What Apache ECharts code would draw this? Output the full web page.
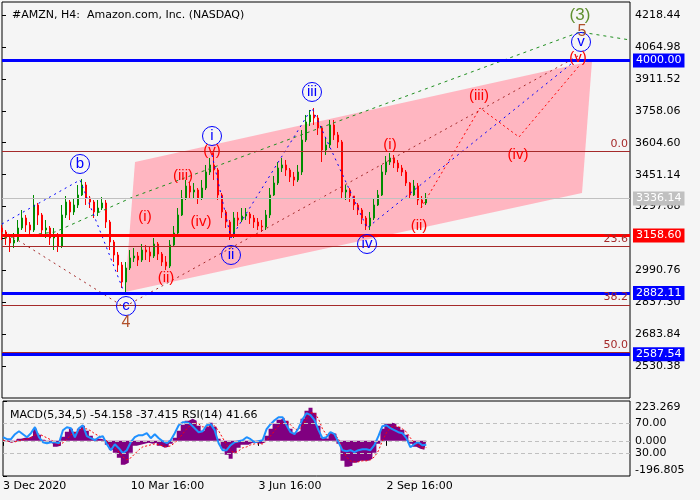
<!DOCTYPE html>
<html>
<head>
<meta charset="utf-8">
<script src="https://cdn.jsdelivr.net/npm/echarts@6/dist/echarts.min.js"></script>
<style>
  html, body { margin: 0; padding: 0; background: #f5f5f5; }
  #chart { width: 700px; height: 500px; }
</style>
</head>
<body>
<div id="chart"></div>
<script>
"use strict";

// H4 candles, one entry per bar (bar index on the x axis)
const opens = [3194.5, 3175.3, 3146.4, 3122.4, 3136.8, 3194.5, 3242.6, 3209.0, 3184.9, 3305.2,
  3257.1, 3184.9, 3194.5, 3146.4, 3160.9, 3107.9, 3257.1, 3319.6, 3271.5, 3305.2,
  3353.3, 3401.4, 3338.8, 3319.6, 3271.5, 3290.7, 3314.8, 3223.4, 3127.2, 3064.7,
  3016.6, 2934.8, 3002.1, 3050.2, 3059.8, 3040.6, 3088.7, 3079.1, 3059.8, 3117.6,
  3069.5, 3031.0, 3011.7, 3112.8, 3170.5, 3257.1, 3338.8, 3396.5, 3367.7, 3377.3,
  3338.8, 3386.9, 3463.9, 3497.6, 3473.5, 3353.3, 3271.5, 3223.4, 3156.0, 3242.6,
  3233.0, 3252.2, 3261.9, 3242.6, 3223.4, 3204.1, 3199.3, 3257.1, 3353.3, 3411.0,
  3483.1, 3497.6, 3473.5, 3439.8, 3425.4, 3463.9, 3617.8, 3704.4, 3738.1, 3723.6,
  3675.5, 3569.7, 3593.8, 3690.0, 3641.9, 3608.2, 3367.7, 3377.3, 3348.4, 3305.2,
  3281.1, 3242.6, 3204.1, 3242.6, 3305.2, 3353.3, 3463.9, 3512.0, 3531.2, 3507.2,
  3483.1, 3463.9, 3411.0, 3353.3, 3396.5, 3329.2, 3314.8];
const closes = [3175.3, 3146.4, 3122.4, 3136.8, 3194.5, 3242.6, 3209.0, 3184.9, 3305.2, 3257.1,
  3184.9, 3194.5, 3146.4, 3160.9, 3107.9, 3257.1, 3319.6, 3271.5, 3305.2, 3353.3,
  3401.4, 3338.8, 3319.6, 3271.5, 3290.7, 3314.8, 3223.4, 3127.2, 3064.7, 3016.6,
  2934.8, 3002.1, 3050.2, 3059.8, 3040.6, 3088.7, 3079.1, 3059.8, 3117.6, 3069.5,
  3031.0, 3011.7, 3112.8, 3170.5, 3257.1, 3338.8, 3396.5, 3367.7, 3377.3, 3338.8,
  3386.9, 3463.9, 3497.6, 3473.5, 3353.3, 3271.5, 3223.4, 3156.0, 3242.6, 3233.0,
  3252.2, 3261.9, 3242.6, 3223.4, 3204.1, 3199.3, 3257.1, 3353.3, 3411.0, 3483.1,
  3497.6, 3473.5, 3439.8, 3425.4, 3463.9, 3617.8, 3704.4, 3738.1, 3723.6, 3675.5,
  3569.7, 3593.8, 3690.0, 3641.9, 3608.2, 3367.7, 3377.3, 3348.4, 3305.2, 3281.1,
  3242.6, 3204.1, 3242.6, 3305.2, 3353.3, 3463.9, 3512.0, 3531.2, 3507.2, 3483.1,
  3463.9, 3411.0, 3353.3, 3396.5, 3329.2, 3314.8, 3336.1];
const lows = [3136.8, 3112.8, 3079.1, 3098.3, 3127.2, 3184.9, 3175.3, 3156.0, 3175.3, 3209.0,
  3156.0, 3146.4, 3112.8, 3088.7, 3079.1, 3098.3, 3242.6, 3233.0, 3257.1, 3290.7,
  3348.4, 3305.2, 3290.7, 3242.6, 3252.2, 3281.1, 3194.5, 3088.7, 3031.0, 2982.9,
  2906.0, 2886.7, 2992.5, 3031.0, 3011.7, 3031.0, 3040.6, 3031.0, 3050.2, 3040.6,
  3011.7, 2992.5, 3002.1, 3107.9, 3156.0, 3252.2, 3329.2, 3338.8, 3338.8, 3310.0,
  3329.2, 3377.3, 3449.5, 3425.4, 3329.2, 3242.6, 3194.5, 3136.8, 3146.4, 3204.1,
  3223.4, 3233.0, 3213.8, 3194.5, 3184.9, 3175.3, 3184.9, 3242.6, 3348.4, 3401.4,
  3463.9, 3444.6, 3415.8, 3396.5, 3415.8, 3449.5, 3608.2, 3685.1, 3690.0, 3641.9,
  3512.0, 3545.7, 3579.3, 3617.8, 3579.3, 3338.8, 3329.2, 3319.6, 3281.1, 3257.1,
  3213.8, 3184.9, 3184.9, 3233.0, 3300.3, 3348.4, 3449.5, 3497.6, 3483.1, 3463.9,
  3444.6, 3396.5, 3338.8, 3348.4, 3305.2, 3290.7, 3305.2];
const highs = [3209.0, 3184.9, 3160.9, 3170.5, 3233.0, 3281.1, 3257.1, 3223.4, 3353.3, 3314.8,
  3266.7, 3233.0, 3204.1, 3194.5, 3170.5, 3305.2, 3348.4, 3329.2, 3338.8, 3401.4,
  3430.2, 3415.8, 3348.4, 3329.2, 3329.2, 3343.6, 3329.2, 3233.0, 3136.8, 3079.1,
  3031.0, 3031.0, 3088.7, 3098.3, 3079.1, 3117.6, 3112.8, 3107.9, 3146.4, 3127.2,
  3079.1, 3059.8, 3136.8, 3204.1, 3290.7, 3377.3, 3425.4, 3415.8, 3411.0, 3386.9,
  3425.4, 3497.6, 3531.2, 3555.3, 3483.1, 3362.9, 3281.1, 3233.0, 3271.5, 3271.5,
  3290.7, 3290.7, 3271.5, 3257.1, 3242.6, 3233.0, 3281.1, 3386.9, 3444.6, 3512.0,
  3531.2, 3521.6, 3483.1, 3463.9, 3497.6, 3665.9, 3738.1, 3762.1, 3771.7, 3738.1,
  3685.1, 3627.4, 3714.0, 3714.0, 3656.3, 3617.8, 3401.4, 3386.9, 3348.4, 3314.8,
  3290.7, 3252.2, 3271.5, 3338.8, 3377.3, 3497.6, 3540.8, 3555.3, 3545.7, 3521.6,
  3497.6, 3473.5, 3415.8, 3425.4, 3411.0, 3348.4, 3362.9];

// MACD(5,34,5) histogram, its signal, RSI(14)
const macdHist = [5.6, 0, -11.2, -5.6, 11.2, 16.8, 16.8, 28, 67.2, 33.6,
  5.6, -5.6, -16.8, -33.6, -28, 22.4, 50.4, 67.2, 50.4, 67.2,
  84, 56, 28, 11.2, 11.2, 5.6, -22.4, -50.4, -67.2, -95.2,
  -134.4, -123.2, -67.2, -28, -22.4, -16.8, -11.2, -16.8, -11.2, -28,
  -39.2, -33.6, -16.8, 16.8, 56, 89.6, 112, 123.2, 112, 84,
  56, 78.4, 100.8, 78.4, 11.2, -44.8, -78.4, -100.8, -67.2, -39.2,
  -22.4, -22.4, -11.2, -11.2, -16.8, -11.2, 28, 67.2, 95.2, 117.6,
  128.8, 112, 67.2, 44.8, 56, 123.2, 168, 184.8, 156.8, 84,
  16.8, 11.2, 44.8, 39.2, -16.8, -112, -145.6, -140, -123.2, -112,
  -112, -112, -100.8, -67.2, -16.8, 67.2, 95.2, 100.8, 95.2, 78.4,
  61.6, 33.6, -16.8, -33.6, -44.8, -50.4, -54.158];
const macdSignal = [0, 0, -5.6, -5.6, 0, 5.6, 11.2, 16.8, 33.6, 39.2,
  28, 16.8, 5.6, -11.2, -22.4, -11.2, 11.2, 33.6, 44.8, 56,
  67.2, 67.2, 56, 39.2, 28, 16.8, 0, -22.4, -39.2, -61.6,
  -89.6, -106.4, -95.2, -72.8, -50.4, -33.6, -28, -22.4, -16.8, -22.4,
  -28, -33.6, -28, -11.2, 11.2, 39.2, 67.2, 89.6, 100.8, 95.2,
  78.4, 78.4, 84, 84, 56, 16.8, -22.4, -56, -67.2, -56,
  -39.2, -33.6, -22.4, -16.8, -16.8, -16.8, 0, 28, 56, 84,
  106.4, 112, 89.6, 67.2, 61.6, 84, 123.2, 156.8, 156.8, 123.2,
  67.2, 33.6, 39.2, 39.2, 11.2, -44.8, -89.6, -112, -117.6, -117.6,
  -112, -112, -106.4, -89.6, -56, 0, 44.8, 72.8, 84, 78.4,
  67.2, 50.4, 16.8, -11.2, -28, -39.2, -37.415];
const rsi = [51.7, 49.1, 49.1, 55.7, 59.7, 55.7, 51.7, 57.1, 65.1, 51.7,
  45.1, 43.7, 45.1, 45.1, 43.7, 61.1, 65.1, 63.7, 51.7, 63.7,
  67.7, 53.1, 50.4, 47.7, 51.7, 53.1, 42.4, 34.4, 42.4, 37.1,
  30.4, 34.4, 45.1, 51.7, 54.4, 54.4, 57.1, 50.4, 55.7, 50.4,
  46.4, 43.7, 47.7, 57.1, 67.7, 71.7, 71.7, 69.1, 63.7, 58.4,
  59.7, 67.7, 69.1, 61.1, 43.7, 34.4, 34.4, 41.1, 45.1, 46.4,
  47.7, 51.7, 49.1, 45.1, 46.4, 47.7, 62.4, 69.1, 74.4, 78.4,
  78.4, 67.7, 58.4, 55.7, 63.7, 75.7, 83.7, 81.1, 74.4, 61.1,
  50.4, 51.7, 58.4, 55.7, 45.1, 34.4, 33.1, 34.4, 31.7, 34.4,
  35.7, 35.7, 34.4, 41.1, 53.1, 66.4, 67.7, 63.7, 61.1, 58.4,
  57.1, 50.4, 38.4, 42.4, 45.1, 41.1, 41.66];

// axis ticks
const priceTicks = [2530.38, 2683.84, 2837.30, 2990.76, 3144.22, 3297.68, 3451.14, 3604.60, 3758.06, 3911.52, 4064.98, 4218.44];
const dateTicks = [0, 32, 64, 96];
const dateLabels = ["3 Dec 2020", "10 Mar 16:00", "3 Jun 16:00", "2 Sep 16:00"];
const macdMin = -196.805, macdMax = 223.269;
const rsiLevels = [70, 30];

// horizontal levels
const keyLevels = [4000.00, 3158.60, 2882.11, 2587.54];
const lastPrice = 3336.14;
const fibTop = 3563, fibRange = 1935;
const fibLevels = [0, 23.6, 38.2, 50.0];

// channel corners (bar index, price)
const channelX = [33.25, 147.5, 145, 30.75];
const channelY = [3512.0, 3997.8, 3362.9, 2886.7];

// wave paths (bar index, price)
const blueAX = [0, 19.5, 30.5], blueAY = [3213.8, 3425.4, 2886.7];
const blueBX = [52.5, 57.25, 77.5, 91.25, 143.5], blueBY = [3545.7, 3146.4, 3771.7, 3194.5, 4002.6];
const brownX = [1.5, 30.5, 144], brownY = [3165.7, 2814.5, 4021.8];
const greenX = [0.5, 13.25, 32.75, 144.5, 157], greenY = [3146.4, 3175.3, 3343.6, 4137.3, 4098.8];
const redX = [104.75, 119.5, 129.25, 144.25], redY = [3290.7, 3771.7, 3632.2, 3973.7];

// wave labels
const minorText = ["b", "i", "iii", "c", "ii", "iv", "v"];
const minorX = [19.5, 52.5, 77.5, 31, 57.25, 91.25, 144.75];
const minorY = [3502.4, 3637.0, 3848.7, 2819.3, 3064.7, 3117.6, 4089.2];
const subText = ["(i)", "(ii)", "(iii)", "(iv)", "(v)", "(i)", "(ii)", "(iii)", "(iv)", "(v)"];
const subX = [35.75, 41, 45.25, 49.75, 52.5, 97, 104.25, 119.25, 129, 144];
const subY = [3247.4, 2954.0, 3444.6, 3223.4, 3564.9, 3593.8, 3204.1, 3829.4, 3545.7, 4012.2];
const majorText = ["4", "5"], majorX = [31, 145], majorY = [2737.6, 4137.3];
const degreeText = ["(3)"], degreeX = [144.5], degreeY = [4219.1];

const font = "DejaVu Sans";
const waveFont = "Liberation Sans";
const brown = "#a52a2a";
const clear = "rgba(0,0,0,0)";
const levelColors = ["#0000ff", "#ff0000", "#0000ff", "#0000ff"];

const pts = (xs, ys) => xs.map((x, i) => [x, ys[i]]);
const labelled = (xs, ys, texts) => xs.map((x, i) => [x, ys[i], texts[i]]);
const indexed = (values) => values.map((v, i) => [i, v]);

function path(name, xs, ys, color, dash) {
  return {
    name, type: "line", xAxisIndex: 0, yAxisIndex: 0, data: pts(xs, ys), showSymbol: false, silent: true, z: 4,
    lineStyle: { color, width: 1, type: dash },
  };
}

function waveLabels(name, xs, ys, texts, color, size, circled) {
  return {
    name, type: "scatter", xAxisIndex: 0, yAxisIndex: 0, data: labelled(xs, ys, texts), silent: true, z: 7,
    symbol: "circle", symbolSize: circled ? 19 : 2,
    itemStyle: circled ? { color: clear, borderColor: "#0000ff", borderWidth: 1, opacity: 1 } : { color: clear, opacity: 1 },
    label: { show: true, position: "inside", formatter: (p) => p.value[2], color, fontSize: size, fontFamily: waveFont, opacity: 1 },
  };
}

const levelLines = keyLevels.map((v, i) => ({
  yAxis: v,
  lineStyle: { color: levelColors[i], width: 3, type: "solid" },
  label: { show: true, position: "end", distance: 3, formatter: v.toFixed(2), color: "#fff", backgroundColor: levelColors[i], padding: [2, 3, 1, 3], fontSize: 11, fontFamily: font },
}));
const lastLine = {
  yAxis: lastPrice,
  lineStyle: { color: "#c0c0c0", width: 1, type: "solid" },
  label: { show: true, position: "end", distance: 3, formatter: lastPrice.toFixed(2), color: "#fff", backgroundColor: "#c0c0c0", padding: [2, 3, 1, 3], fontSize: 11, fontFamily: font },
};
const fibLines = fibLevels.map((lvl) => ({
  yAxis: fibTop - fibRange * lvl / 100,
  lineStyle: { color: brown, width: 1, type: "solid" },
  label: { show: true, position: "insideEndTop", distance: 2, formatter: lvl.toFixed(1), color: brown, fontSize: 11, fontFamily: font },
}));

const chart = echarts.init(document.getElementById("chart"), null, { renderer: "canvas" });
const axisText = { color: "#000", fontSize: 11, fontFamily: font };

chart.setOption({
  animation: false,
  backgroundColor: "#f5f5f5",
  textStyle: { fontFamily: font },
  title: [
    { text: "#AMZN, H4:  Amazon.com, Inc. (NASDAQ)", left: 7, top: 5, textStyle: { ...axisText, fontWeight: "normal" } },
    { text: "MACD(5,34,5) -54.158 -37.415 RSI(14) 41.66", left: 5, top: 405, textStyle: { ...axisText, fontWeight: "normal" } },
  ],
  grid: [
    { left: 2, right: 70, top: 2, height: 396, show: true, borderColor: "#000", borderWidth: 1, backgroundColor: "transparent" },
    { left: 2, right: 70, top: 401, height: 75, show: true, borderColor: "#000", borderWidth: 1, backgroundColor: "transparent" },
  ],
  xAxis: [
    { type: "value", gridIndex: 0, min: 0, max: 157, axisLine: { show: false }, axisTick: { show: false }, axisLabel: { show: false }, splitLine: { show: false } },
    {
      type: "value", gridIndex: 1, min: 0, max: 157, axisLine: { show: false }, splitLine: { show: false },
      axisTick: { show: true, customValues: dateTicks, length: 5, lineStyle: { color: "#000" } },
      axisLabel: { ...axisText, customValues: dateTicks, align: "left", margin: 5, formatter: (v) => dateLabels[dateTicks.indexOf(v)] || "" },
    },
  ],
  yAxis: [
    {
      type: "value", gridIndex: 0, position: "right", min: 2377.0, max: 4281.4, scale: true,
      axisLine: { show: false }, splitLine: { show: false },
      axisTick: { show: true, customValues: priceTicks, length: 4, lineStyle: { color: "#000" } },
      axisLabel: { ...axisText, customValues: priceTicks, margin: 5, formatter: (v) => v.toFixed(2) },
    },
    {
      type: "value", gridIndex: 1, position: "right", min: macdMin, max: macdMax,
      axisLine: { show: false }, splitLine: { show: false },
      axisTick: { show: true, customValues: [macdMin, 0, macdMax], length: 4, lineStyle: { color: "#000" } },
      axisLabel: {
        ...axisText, customValues: [macdMin, 0, macdMax], margin: 5,
        formatter: (v) => v === macdMax ? "{top|" + v.toFixed(3) + "}" : v === macdMin ? "{bot|" + v.toFixed(3) + "}" : v.toFixed(3),
        rich: { top: { ...axisText, padding: [12, 0, 0, 0] }, bot: { ...axisText, padding: [0, 0, 12, 0] } },
      },
    },
    {
      type: "value", gridIndex: 1, position: "right", min: 0, max: 100,
      axisLine: { show: false }, splitLine: { show: false },
      axisTick: { show: false },
      axisLabel: { ...axisText, customValues: rsiLevels, margin: 5, formatter: (v) => v.toFixed(2) },
    },
  ],
  series: [
    {
      name: "Channel", type: "custom", xAxisIndex: 0, yAxisIndex: 0, z: 1, silent: true,
      data: [[channelX[0], channelY[0]]],
      renderItem: (params, api) => ({
        type: "polygon",
        shape: { points: channelX.map((x, i) => api.coord([x, channelY[i]])) },
        style: { fill: "#ffb6c1" },
      }),
    },
    {
      name: "AMZN", type: "candlestick", xAxisIndex: 0, yAxisIndex: 0, z: 3, silent: true,
      data: opens.map((o, i) => [i, o, closes[i], lows[i], highs[i]]),
      encode: { x: 0, y: [1, 2, 3, 4] },
      barWidth: 2,
      itemStyle: { color: "#008c00", color0: "#ff0000", borderColor: "#008c00", borderColor0: "#ff0000", borderWidth: 1 },
      markLine: { silent: true, symbol: ["none", "none"], z: 5, data: [...fibLines, lastLine, ...levelLines] },
    },
    path("Green", greenX, greenY, "#1f8f1f", [3, 4]),
    path("Brown", brownX, brownY, brown, [2, 4]),
    path("Blue A", blueAX, blueAY, "#0000ff", [2, 4]),
    path("Blue B", blueBX, blueBY, "#0000ff", [2, 4]),
    path("Red", redX, redY, "#ff0000", [2, 3]),
    waveLabels("Minor", minorX, minorY, minorText, "#0000ff", 15, true),
    waveLabels("Sub", subX, subY, subText, "#ff0000", 15, false),
    waveLabels("Major", majorX, majorY, majorText, "#b0502a", 16, false),
    waveLabels("Degree", degreeX, degreeY, degreeText, "#5f9030", 17, false),
    {
      name: "MACD", type: "line", xAxisIndex: 1, yAxisIndex: 1, data: indexed(macdHist), step: "middle", showSymbol: false, silent: true, z: 2,
      lineStyle: { width: 0, color: "#800080" },
      areaStyle: { color: "#800080", opacity: 1 },
    },
    {
      name: "Signal", type: "line", xAxisIndex: 1, yAxisIndex: 1, data: indexed(macdSignal), showSymbol: false, silent: true, z: 3,
      lineStyle: { color: "#ff0000", width: 1, type: [2, 2] },
      markLine: { silent: true, symbol: ["none", "none"], label: { show: false }, lineStyle: { color: "#c0c0c0", type: [4, 3], width: 1 }, data: [{ yAxis: 0 }] },
    },
    {
      name: "RSI", type: "line", xAxisIndex: 1, yAxisIndex: 2, data: indexed(rsi), showSymbol: false, silent: true, z: 4,
      lineStyle: { color: "#1e90ff", width: 2 },
      markLine: { silent: true, symbol: ["none", "none"], label: { show: false }, lineStyle: { color: "#c0c0c0", type: [4, 3], width: 1 }, data: rsiLevels.map((v) => ({ yAxis: v })) },
    },
  ],
});
</script>
</body>
</html>
